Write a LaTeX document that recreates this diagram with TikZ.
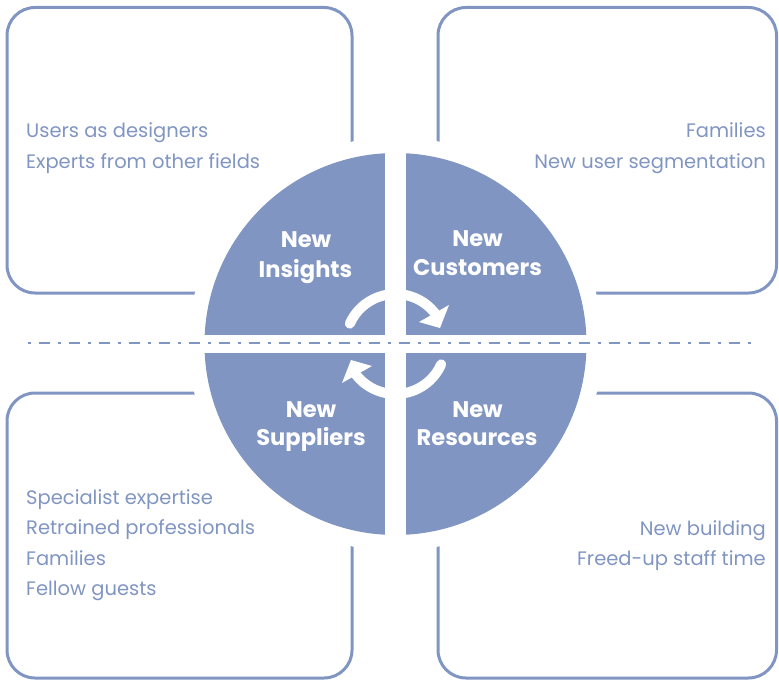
\documentclass[tikz,border=0pt]{standalone}
\usepackage{fontspec}
\setmainfont{Poppins}
\usetikzlibrary{calc}
\definecolor{cblue}{RGB}{128,149,194}
\tikzset{
  frame/.style={draw=cblue, line width=3pt, rounded corners=28pt},
  item/.style={font=\fontsize{19.5}{22}\selectfont, text=cblue, inner sep=0pt},
  label/.style={font=\fontsize{22.6}{26}\selectfont\bfseries, text=white, inner sep=0pt, anchor=base},
  sep/.style={draw=cblue, line width=2.5pt, dash pattern=on 2.5pt off 8pt on 11.5pt off 8pt},
  shaft/.style={draw=white, line width=10pt, line cap=round}
}
\begin{document}
\begin{tikzpicture}[x=1pt,y=-1pt]
\useasboundingbox (0,0) rectangle (779,682);
\coordinate (c) at (395.5,344);
% frames
\draw[frame] (7,7.5) rectangle (352,293);
\draw[frame] (438,7.5) rectangle (776.5,293);
\draw[frame] (7,393) rectangle (352,678);
\draw[frame] (438,393) rectangle (776.5,678);
% halo and disc
\fill[white] (c) circle (207);
\fill[cblue] (c) circle (191);
\fill[white] (385,140) rectangle (406,548);
\fill[white] (190,335) rectangle (600,353);
% separator
\coordinate (sl) at (28,343);
\coordinate (sr) at (758,343);
\draw[sep] (sl) -- (sr);
% cycle arrows
\draw[shaft] ($(c)+(-156:50)$) arc[start angle=-156, end angle=-38, radius=50];
\fill[white] (449,305) -- (419,322) -- (440,328) -- cycle;
\begin{scope}[rotate around={180:(c)}]
\draw[shaft] ($(c)+(-156:50)$) arc[start angle=-156, end angle=-38, radius=50];
\fill[white] (449,305) -- (419,322) -- (440,328) -- cycle;
\end{scope}
% quadrant labels
\node[label] (i1) at (306,247.3) {New};
\node[label] (i2) at (305.5,277.3) {Insights};
\node[label] (c1) at (477.5,246.7) {New};
\node[label] (c2) at (477.5,275.5) {Customers};
\node[label] (s1) at (311,417.3) {New};
\node[label] (s2) at (311,445.7) {Suppliers};
\node[label] (r1) at (477.5,417.3) {New};
\node[label] (r2) at (477,445.7) {Resources};
% box texts
\node[item, anchor=base west] (tl1) at (26,137.7) {Users as designers};
\node[item, anchor=base west] (tl2) at (26,168.2) {Experts from other fields};
\node[item, anchor=base east] (tr1) at (766,137.7) {Families};
\node[item, anchor=base east] (tr2) at (766,168.2) {New user segmentation};
\node[item, anchor=base west] (bl1) at (26,504) {Specialist expertise};
\node[item, anchor=base west] (bl2) at (26,534.5) {Retrained professionals};
\node[item, anchor=base west] (bl3) at (26,565) {Families};
\node[item, anchor=base west] (bl4) at (26,595.5) {Fellow guests};
\node[item, anchor=base east] (br1) at (766,535) {New building};
\node[item, anchor=base east] (br2) at (766,565.5) {Freed-up staff time};
\end{tikzpicture}
\end{document}
